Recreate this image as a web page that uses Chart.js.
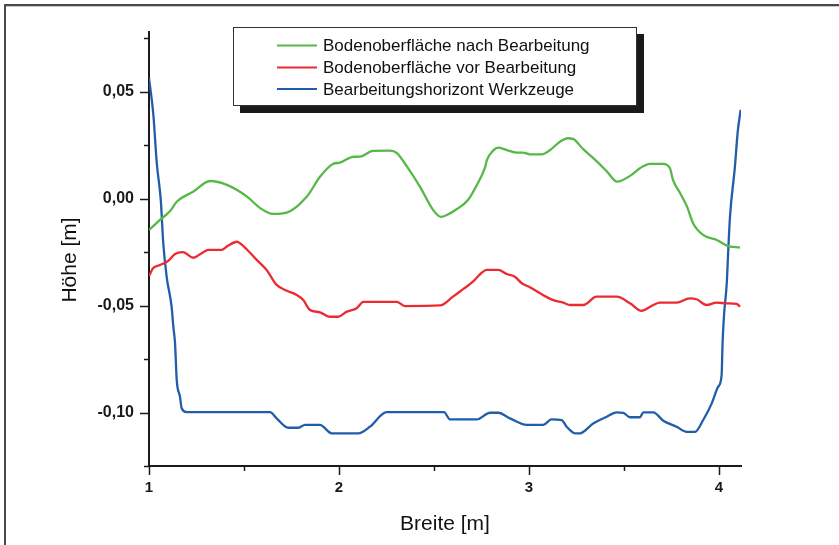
<!DOCTYPE html>
<html>
<head>
<meta charset="utf-8">
<script src="https://cdn.jsdelivr.net/npm/chart.js@4"></script>
<style>
html,body{margin:0;padding:0;background:#fff;}
#wrap{width:839px;height:545px;position:relative;}
</style>
</head>
<body>
<div id="wrap"><canvas id="c" width="839" height="545"></canvas></div>
<script>
// ---- data ----
const seriesLabels = ['Bodenoberfläche nach Bearbeitung', 'Bodenoberfläche vor Bearbeitung', 'Bearbeitungshorizont Werkzeuge'];
const seriesColors = ['#56b847', '#ec2a32', '#215da9'];

const greenX = [1.000,1.058,1.111,1.147,1.232,1.321,1.410,1.516,1.584,1.653,1.725,1.831,1.900,1.968,2.005,2.074,2.111,2.179,2.268,2.305,2.358,2.426,2.495,2.537,2.568,2.621,2.679,2.726,2.768,2.779,2.811,2.837,2.884,2.937,2.968,3.005,3.068,3.111,3.163,3.205,3.232,3.284,3.358,3.411,3.463,3.532,3.584,3.637,3.705,3.742,3.758,3.795,3.832,3.863,3.916,3.989,4.042,4.111];
const greenY = [-0.0146,-0.0099,-0.0057,-0.0013,0.0033,0.0083,0.0065,0.0010,-0.0043,-0.0071,-0.0065,0.0010,0.0103,0.0163,0.0169,0.0196,0.0197,0.0224,0.0225,0.0214,0.0150,0.0057,-0.0052,-0.0085,-0.0076,-0.0048,-0.0006,0.0065,0.0144,0.0182,0.0225,0.0239,0.0228,0.0216,0.0216,0.0208,0.0208,0.0228,0.0267,0.0283,0.0280,0.0233,0.0174,0.0127,0.0080,0.0107,0.0143,0.0163,0.0163,0.0143,0.0088,0.0027,-0.0037,-0.0113,-0.0169,-0.0193,-0.0219,-0.0229];

const redX = [1.000,1.021,1.058,1.100,1.137,1.179,1.232,1.277,1.312,1.383,1.417,1.462,1.479,1.514,1.567,1.619,1.672,1.725,1.777,1.812,1.847,1.900,1.953,1.996,2.041,2.093,2.128,2.181,2.304,2.347,2.532,2.600,2.653,2.705,2.751,2.777,2.838,2.883,2.926,2.962,3.005,3.058,3.128,3.181,3.216,3.286,3.356,3.462,3.532,3.593,3.654,3.689,3.777,3.847,3.882,3.935,3.987,4.040,4.093,4.111];
const redY = [-0.0361,-0.0325,-0.0310,-0.0291,-0.0258,-0.0250,-0.0276,-0.0255,-0.0239,-0.0239,-0.0219,-0.0201,-0.0208,-0.0236,-0.0286,-0.0333,-0.0403,-0.0430,-0.0450,-0.0474,-0.0520,-0.0531,-0.0552,-0.0552,-0.0528,-0.0512,-0.0482,-0.0482,-0.0482,-0.0502,-0.0499,-0.0458,-0.0423,-0.0388,-0.0346,-0.0333,-0.0333,-0.0352,-0.0365,-0.0395,-0.0414,-0.0442,-0.0474,-0.0486,-0.0497,-0.0497,-0.0458,-0.0458,-0.0489,-0.0524,-0.0497,-0.0486,-0.0486,-0.0466,-0.0470,-0.0497,-0.0486,-0.0489,-0.0492,-0.0505];

const blueX = [1.000,1.023,1.041,1.062,1.075,1.093,1.119,1.128,1.137,1.146,1.163,1.172,1.198,1.637,1.672,1.733,1.786,1.821,1.900,1.962,2.102,2.163,2.251,2.553,2.584,2.725,2.795,2.838,2.900,2.988,3.075,3.119,3.172,3.198,3.242,3.268,3.338,3.409,3.461,3.496,3.532,3.584,3.602,3.654,3.707,3.777,3.830,3.874,3.917,3.962,3.996,4.014,4.019,4.026,4.041,4.049,4.058,4.084,4.098,4.114];
const blueY = [0.0565,0.0392,0.0166,-0.0006,-0.0207,-0.0365,-0.0505,-0.0598,-0.0675,-0.0848,-0.0926,-0.0980,-0.0998,-0.0998,-0.1027,-0.1071,-0.1071,-0.1058,-0.1058,-0.1097,-0.1097,-0.1066,-0.0998,-0.0998,-0.1032,-0.1032,-0.1001,-0.1001,-0.1027,-0.1058,-0.1058,-0.1032,-0.1035,-0.1066,-0.1097,-0.1097,-0.1051,-0.1020,-0.0999,-0.1001,-0.1022,-0.1022,-0.0999,-0.0999,-0.1038,-0.1066,-0.1090,-0.1090,-0.1035,-0.0957,-0.0879,-0.0825,-0.0676,-0.0552,-0.0395,-0.0240,-0.0084,0.0150,0.0307,0.0416];

const xTicks = [1, 1.5, 2, 2.5, 3, 3.5, 4];
const xTickLabels = ['1', '', '2', '', '3', '', '4'];
const yTicks = [-0.125, -0.1, -0.075, -0.05, -0.025, 0, 0.025, 0.05, 0.075];
const yTickLabels = ['', '-0,10', '', '-0,05', '', '0,00', '', '0,05', ''];
const xTitle = 'Breite [m]';
const yTitle = 'Höhe [m]';

function pts(xs, ys){ return xs.map((x,i)=>({x:x, y:ys[i]})); }

const FONT = '"Liberation Sans", Arial, sans-serif';

const decor = {
  id: 'decor',
  beforeDraw(chart){
    const ctx = chart.ctx;
    ctx.save();
    ctx.fillStyle = '#fff';
    ctx.fillRect(0,0,chart.width,chart.height);
    ctx.fillStyle = '#4a4a4a';
    ctx.fillRect(4,4,chart.width-4,2);
    ctx.fillRect(4,4,2,chart.height-4);
    ctx.fillStyle = '#c8c8c8';
    ctx.fillRect(6,6,chart.width-6,1);
    ctx.restore();
  },
  afterDraw(chart){
    const ctx = chart.ctx;
    const xs = chart.scales.x, ys = chart.scales.y;
    const a = chart.chartArea;
    ctx.save();
    // ticks
    ctx.strokeStyle = '#1a1a1a';
    ctx.lineWidth = 1.5;
    xTicks.forEach((v,i)=>{
      const px = Math.round(xs.getPixelForValue(v)) + 0.5;
      const len = xTickLabels[i] ? 9 : 5;
      ctx.beginPath(); ctx.moveTo(px, a.bottom); ctx.lineTo(px, a.bottom + len); ctx.stroke();
    });
    yTicks.forEach((v,i)=>{
      const py = Math.round(ys.getPixelForValue(v)) + 0.5;
      const len = yTickLabels[i] ? 9 : 5;
      ctx.beginPath(); ctx.moveTo(a.left, py); ctx.lineTo(a.left - len, py); ctx.stroke();
    });
    // axis titles
    ctx.fillStyle = '#111';
    ctx.font = '21px ' + FONT;
    ctx.textAlign = 'center';
    ctx.textBaseline = 'middle';
    ctx.fillText(xTitle, (a.left + a.right)/2, 524);
    ctx.translate(70, 260);
    ctx.rotate(-Math.PI/2);
    ctx.fillText(yTitle, 0, 0);
    ctx.restore();

    // legend box
    ctx.save();
    const L = 233, T = 27, R = 637, B = 106;
    ctx.fillStyle = '#1a1a1a';
    ctx.fillRect(L + 7, T + 7, R - L, B - T);
    ctx.fillStyle = '#fff';
    ctx.fillRect(L, T, R - L, B - T);
    ctx.strokeStyle = '#333';
    ctx.lineWidth = 1;
    ctx.strokeRect(L + 0.5, T + 0.5, R - L - 1, B - T - 1);
    const rows = [45.5, 67.5, 89];
    ctx.font = '17px ' + FONT;
    ctx.textAlign = 'left';
    ctx.textBaseline = 'middle';
    chart.data.datasets.forEach((ds, i)=>{
      ctx.strokeStyle = ds.borderColor;
      ctx.lineWidth = 2;
      ctx.beginPath(); ctx.moveTo(277, rows[i]); ctx.lineTo(317, rows[i]); ctx.stroke();
      ctx.fillStyle = '#111';
      ctx.fillText(ds.label, 323, rows[i] + 1);
    });
    ctx.restore();
  }
};

new Chart(document.getElementById('c'), {
  type: 'line',
  data: {
    datasets: [
      {label: seriesLabels[0], data: pts(greenX, greenY), borderColor: seriesColors[0]},
      {label: seriesLabels[1], data: pts(redX, redY), borderColor: seriesColors[1]},
      {label: seriesLabels[2], data: pts(blueX, blueY), borderColor: seriesColors[2]}
    ]
  },
  options: {
    responsive: false,
    animation: false,
    events: [],
    layout: {padding: {left: 0, top: 32, right: 98, bottom: 0}},
    elements: {
      line: {borderWidth: 2.3, cubicInterpolationMode: 'monotone', fill: false},
      point: {radius: 0}
    },
    plugins: {legend: {display: false}, tooltip: {enabled: false}, title: {display: false}},
    scales: {
      x: {
        type: 'linear',
        min: 1, max: 4.116,
        afterBuildTicks(s){ s.ticks = xTicks.map(v=>({value:v})); },
        afterFit(s){ s.height = 79; },
        grid: {display: false, drawTicks: false},
        border: {display: true, color: '#1a1a1a', width: 2},
        ticks: {
          padding: 13,
          color: '#1a1a1a',
          font: {family: FONT, size: 15, weight: 'bold'},
          maxRotation: 0,
          autoSkip: false,
          callback(v){ const i = xTicks.indexOf(v); return i >= 0 ? xTickLabels[i] : ''; }
        }
      },
      y: {
        type: 'linear',
        min: -0.125, max: 0.078,
        afterBuildTicks(s){ s.ticks = yTicks.map(v=>({value:v})); },
        afterFit(s){ s.width = 149; },
        grid: {display: false, drawTicks: false},
        border: {display: true, color: '#1a1a1a', width: 2},
        ticks: {
          padding: 15,
          color: '#1a1a1a',
          font: {family: FONT, size: 16, weight: 'bold'},
          autoSkip: false,
          callback(v){ const i = yTicks.findIndex(t=>Math.abs(t-v)<1e-9); return i >= 0 ? yTickLabels[i] : ''; }
        }
      }
    }
  },
  plugins: [decor]
});
</script>
</body>
</html>
